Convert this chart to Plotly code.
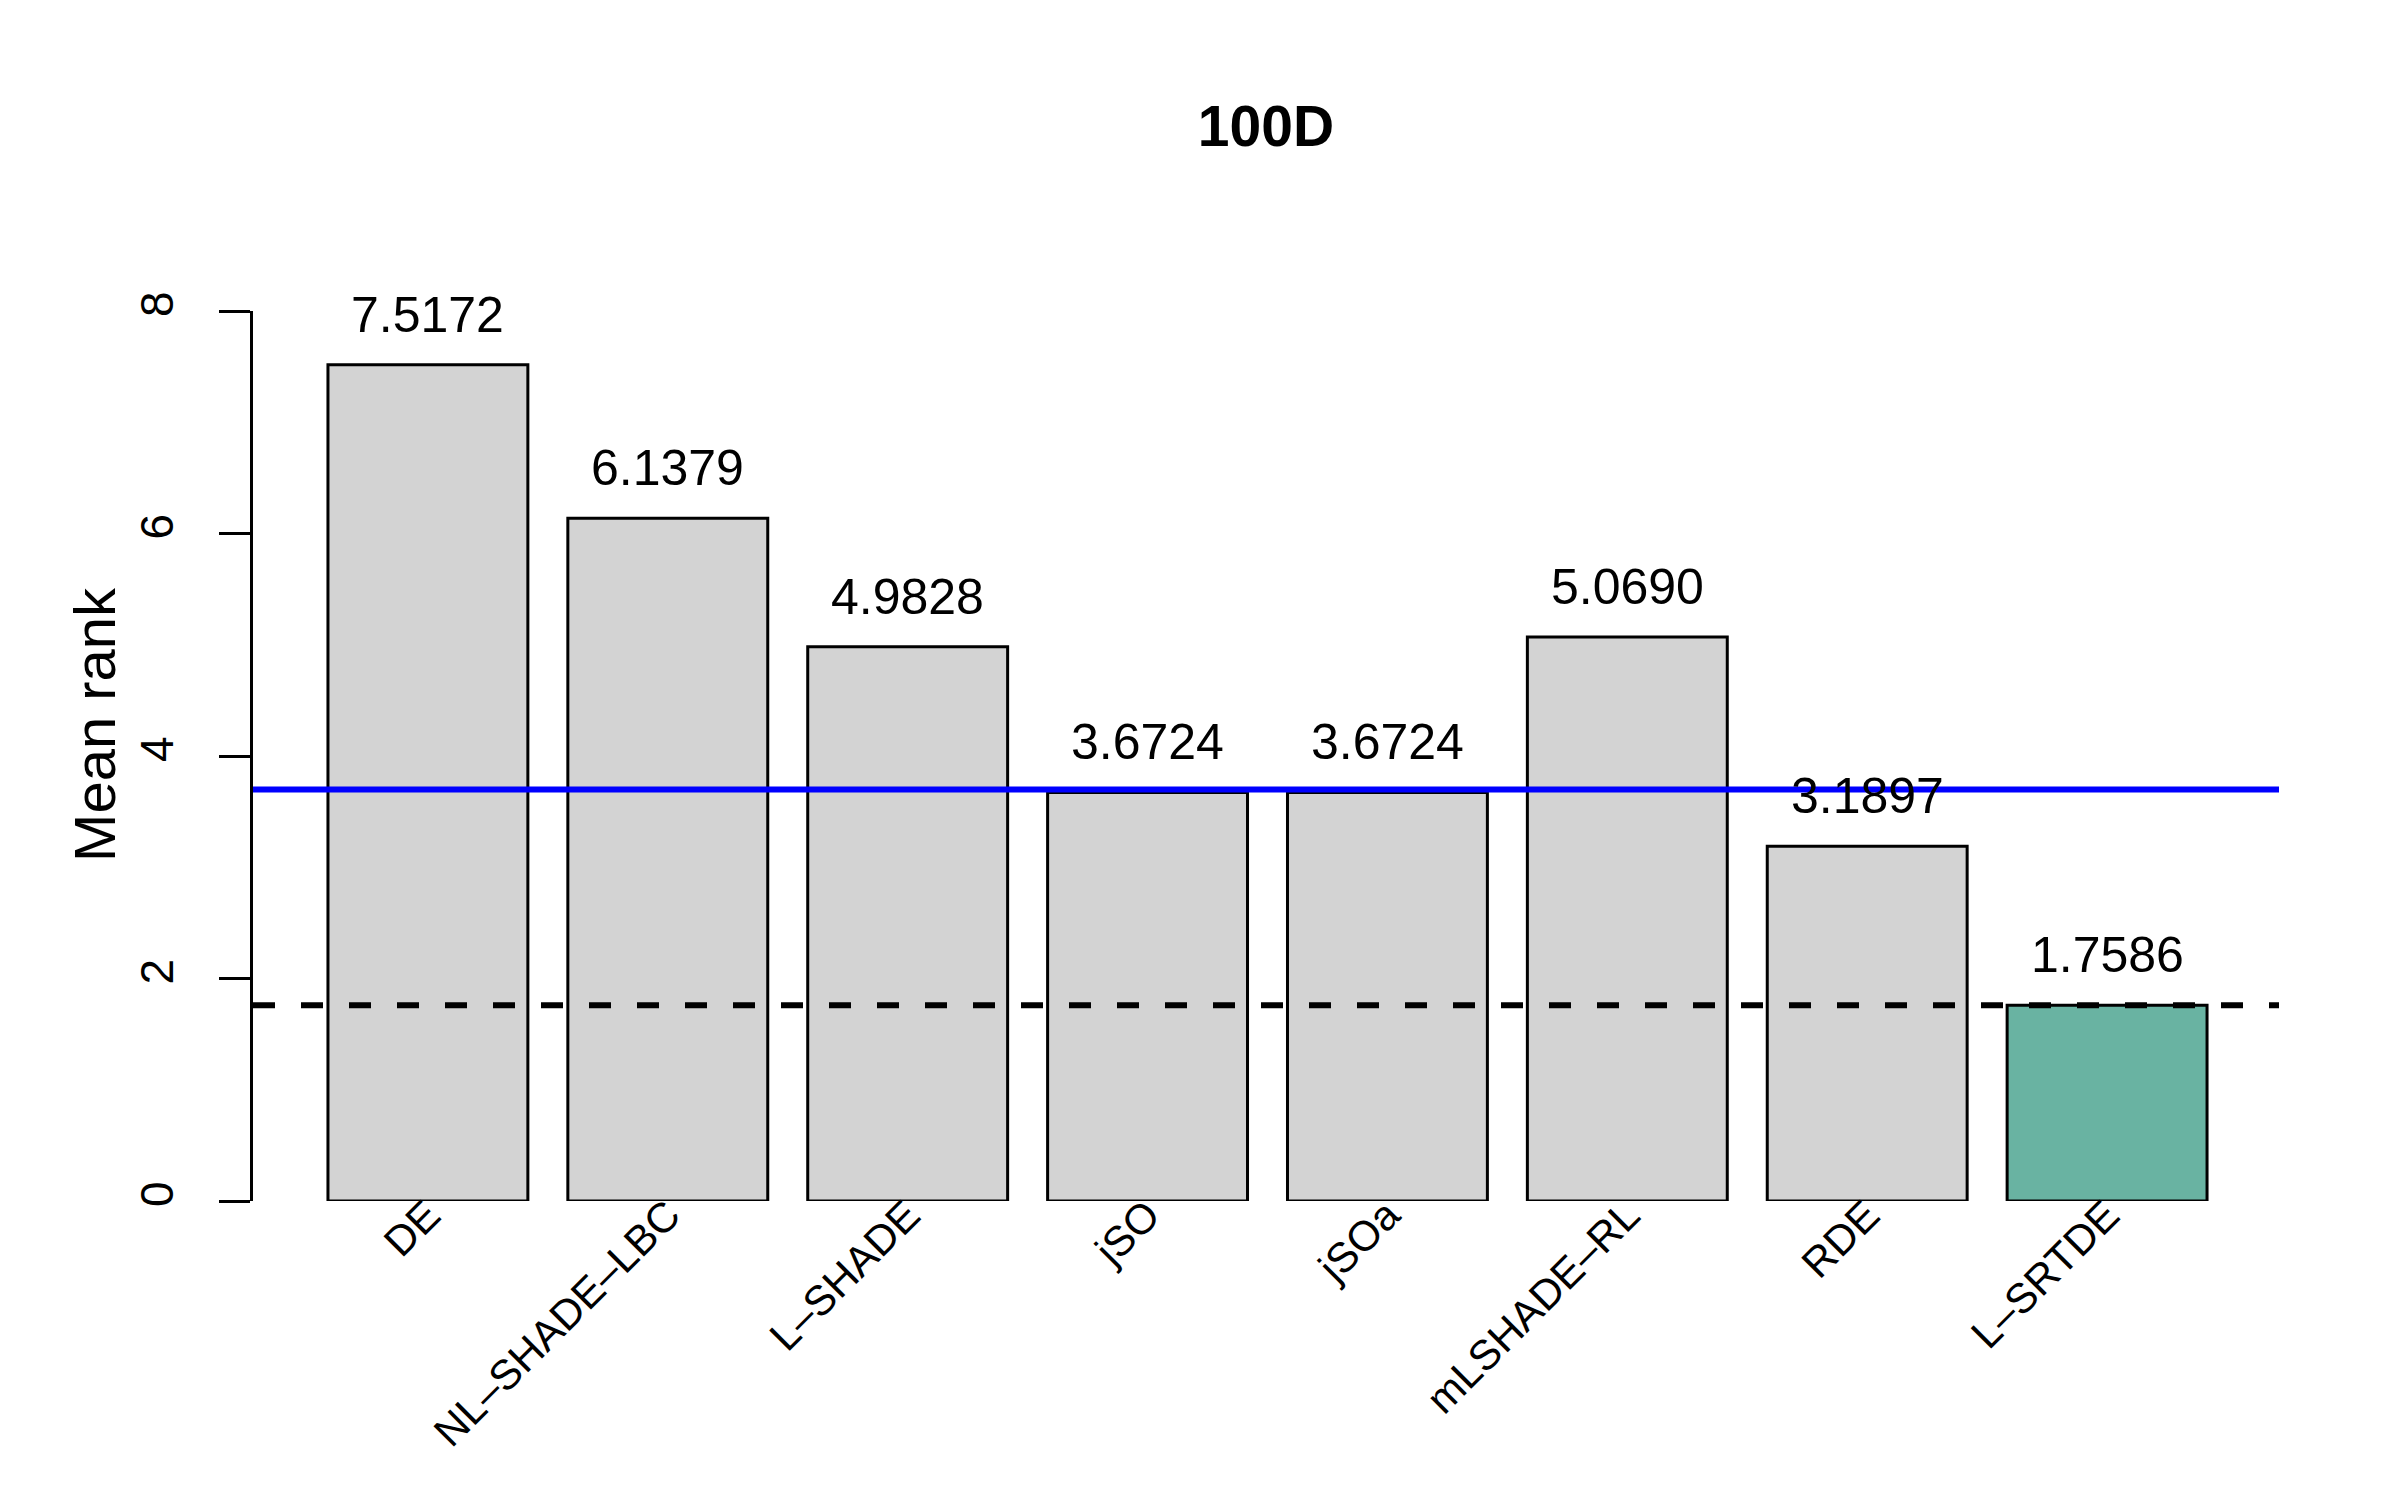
import numpy as np
import plotly.graph_objects as go

# mean Friedman ranks, 100D
algorithms = ["DE", "NL\u2013SHADE\u2013LBC", "L\u2013SHADE", "jSO", "jSOa",
              "mLSHADE\u2013RL", "RDE", "L\u2013SRTDE"]
mean_rank = [7.5172, 6.1379, 4.9828, 3.6724, 3.6724, 5.0690, 3.1897, 1.7586]
cd_level = 3.70          # best rank + critical difference (blue line)
y_ticks = [0, 2, 4, 6, 8]

FONT = "Liberation Sans, Arial, Helvetica, sans-serif"
GREY = "#D3D3D3"
TEAL = "#69B3A2"

# R barplot style positions: width 1, space 0.2
pos = 0.7 + 1.2 * np.arange(len(algorithms))
best = min(mean_rank)
colors = [TEAL if v == best else GREY for v in mean_rank]

fig = go.Figure()
fig.add_trace(go.Bar(
    x=pos, y=mean_rank, width=1.0,
    marker=dict(color=colors, line=dict(color="black", width=3)),
    showlegend=False, hoverinfo="skip",
))

# value labels above the bars
for x, v in zip(pos, mean_rank):
    fig.add_annotation(x=x, y=v, text=f"{v:.4f}", showarrow=False,
                       yanchor="bottom", yshift=20,
                       font=dict(family=FONT, size=50, color="black"))

fig.add_hline(y=cd_level, line=dict(color="#0000FF", width=6))
fig.add_hline(y=best, line=dict(color="black", width=6, dash="22px,26px"))

# y axis title, placed like R's ylab
fig.add_annotation(text="Mean rank", xref="paper", yref="paper",
                   x=-0.078, y=0.536, textangle=-90, showarrow=False,
                   xanchor="center", yanchor="middle",
                   font=dict(family=FONT, size=58, color="black"))

fig.update_layout(
    width=2400, height=1500,
    paper_bgcolor="white", plot_bgcolor="white",
    margin=dict(l=245, r=129, t=303, b=307),
    title=dict(text="<b>100D</b>", x=0.5, xref="paper", xanchor="center",
               y=1 - 118 / 1500, yanchor="middle",
               font=dict(family=FONT, size=57, color="black")),
    font=dict(family=FONT, color="black"),
    xaxis=dict(range=[-0.175, 9.96], tickvals=pos, ticktext=algorithms,
               tickangle=-45, showgrid=False, zeroline=False, showline=False,
               ticks="", tickfont=dict(size=42), ticklabelstandoff=-20),
    yaxis=dict(range=[0, 8], tickvals=y_ticks, tickangle=-90,
               showgrid=False, zeroline=False, showline=True,
               linecolor="black", linewidth=3,
               ticks="outside", ticklen=31, tickwidth=3, tickcolor="black",
               tickfont=dict(size=46), ticklabelstandoff=28),
)

fig.write_html("out.html")
